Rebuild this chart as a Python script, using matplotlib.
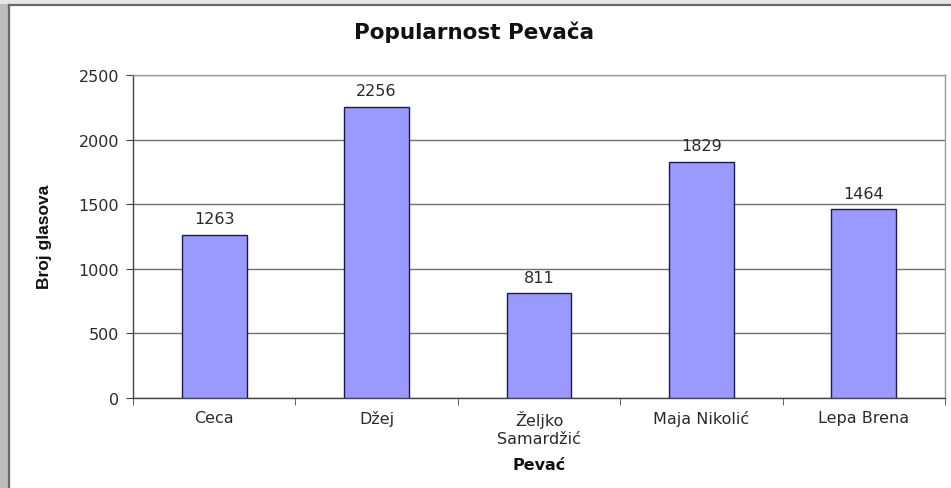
import matplotlib
matplotlib.use("Agg")
import matplotlib.pyplot as plt
from matplotlib.patches import Rectangle
from matplotlib.lines import Line2D

plt.rcParams['font.family'] = ['DejaVu Sans']

categories = ["Ceca", "Džej", "Željko\nSamardžić", "Maja Nikolić", "Lepa Brena"]
votes = [1263, 2256, 811, 1829, 1464]
y_ticks = [0, 500, 1000, 1500, 2000, 2500]

W, H = 951, 489
fig = plt.figure(figsize=(W / 100, H / 100), dpi=100)
fig.patch.set_facecolor("white")

def fx(px):
    return px / W

def fy(py):
    return 1 - py / H

# window-like frame: grey strip on the left, dark edge lines
fig.add_artist(Rectangle((0, 0), fx(8), 1, transform=fig.transFigure,
                         facecolor="#bdbdbd", edgecolor="none", zorder=0))
fig.add_artist(Rectangle((0, fy(5)), 1, fy(0) - fy(5), transform=fig.transFigure,
                         facecolor="#e6e6e6", edgecolor="none", zorder=0))
fig.add_artist(Line2D([fx(8.5), fx(8.5)], [0, fy(5.5)], transform=fig.transFigure,
                      color="#6a6a6a", lw=1.6))
fig.add_artist(Line2D([fx(8.5), 1], [fy(5.5), fy(5.5)], transform=fig.transFigure,
                      color="#6a6a6a", lw=1.6))

ax = fig.add_axes([fx(133), fy(399), fx(945) - fx(133), fy(76) - fy(399)])
x = range(len(categories))
bars = ax.bar(x, votes, width=0.4, color="#9999ff", edgecolor="#1a1a4d",
              linewidth=1.0, zorder=3)

ax.set_xlim(-0.5, len(categories) - 0.5)
ax.set_ylim(0, 2500)
ax.set_yticks(y_ticks)
ax.set_yticklabels([str(t) for t in y_ticks], fontsize=11.5, color="#2a2a2a")
ax.set_xticks(list(x))
ax.set_xticklabels(categories, fontsize=11.5, color="#2a2a2a", linespacing=1.25)
ax.set_xticks([i - 0.5 for i in range(len(categories) + 1)], minor=True)
ax.tick_params(axis="x", which="major", length=0, pad=9)
ax.tick_params(axis="x", which="minor", length=5, direction="out", color="#444444")
ax.tick_params(axis="y", length=5, direction="out", color="#444444", pad=5)

ax.grid(axis="y", color="#707070", linewidth=1.0, zorder=0)
for side in ["top", "right"]:
    ax.spines[side].set_color("#9a9a9a")
    ax.spines[side].set_linewidth(1.0)
for side in ["left", "bottom"]:
    ax.spines[side].set_color("#444444")
    ax.spines[side].set_linewidth(1.0)

for rect, v in zip(bars, votes):
    ax.annotate(str(v), (rect.get_x() + rect.get_width() / 2, v),
                xytext=(0, 6), textcoords="offset points",
                ha="center", va="bottom", fontsize=11.5, color="#2a2a2a")

fig.text(fx(474), fy(32), "Popularnost Pevača", ha="center", va="center",
         fontsize=15.5, fontweight="bold", color="#111111")
fig.text(fx(539), fy(466), "Pevać", ha="center", va="center",
         fontsize=11.5, fontweight="bold", color="#111111")
fig.text(fx(45), fy(237), "Broj glasova", ha="center", va="center",
         rotation=90, fontsize=12.5, fontweight="bold", color="#111111",
         family=["Liberation Sans Narrow", "Liberation Sans", "DejaVu Sans"])

fig.savefig("out.png", dpi=100)
